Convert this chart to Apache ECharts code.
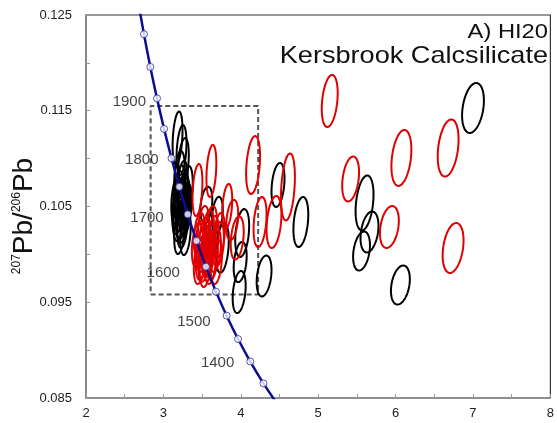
<!DOCTYPE html>
<html>
<head>
<meta charset="utf-8">
<script src="https://cdn.jsdelivr.net/npm/echarts@6/dist/echarts.min.js"></script>
<style>
html,body{margin:0;padding:0;background:#fff;}
#chart{width:557px;height:423px;}
</style>
</head>
<body>
<div id="chart"></div>
<script>
// ---------- data ----------
const xTickLabels = ['2', '3', '4', '5', '6', '7', '8'];
const yTickLabels = ['0.085', '0.095', '0.105', '0.115', '0.125'];

// Concordia age markers (Ma) and their 238U/206Pb, 207Pb/206Pb positions
const concordiaAges = [2050, 2000, 1950, 1900, 1850, 1800, 1750, 1700, 1650, 1600, 1550, 1500, 1450, 1400, 1350, 1300];
const concordiaX = [2.6712, 2.7490, 2.8310, 2.9174, 3.0084, 3.1046, 3.2062, 3.3139, 3.4282, 3.5497, 3.6790, 3.8170, 3.9645, 4.1227, 4.2926, 4.4756];
const concordiaY = [0.12651, 0.12299, 0.11958, 0.11629, 0.11311, 0.11004, 0.10706, 0.10418, 0.10141, 0.09872, 0.09611, 0.09360, 0.09116, 0.08881, 0.08653, 0.08432];
const labelledAges = [1900, 1800, 1700, 1600, 1500, 1400];

// Error ellipses: [x, y, x half-error, y half-error]
const blackEllipses = [
  [3.183, 0.11215, 0.064, 0.00277],
  [3.234, 0.11090, 0.064, 0.00260],
  [3.260, 0.10965, 0.068, 0.00250],
  [3.208, 0.10829, 0.068, 0.00250],
  [3.247, 0.10725, 0.068, 0.00250],
  [3.195, 0.10620, 0.068, 0.00250],
  [3.272, 0.10568, 0.068, 0.00250],
  [3.221, 0.10495, 0.068, 0.00250],
  [3.285, 0.10443, 0.068, 0.00240],
  [3.195, 0.10380, 0.068, 0.00240],
  [3.247, 0.10307, 0.068, 0.00240],
  [3.208, 0.10234, 0.068, 0.00230],
  [3.285, 0.10223, 0.068, 0.00230],
  [3.170, 0.10568, 0.068, 0.00250],
  [3.311, 0.10672, 0.068, 0.00250],
  [3.230, 0.10400, 0.068, 0.00240],
  [3.260, 0.10600, 0.068, 0.00250],
  [3.215, 0.10680, 0.066, 0.00250],
  [3.250, 0.10520, 0.066, 0.00250],
  [3.180, 0.10450, 0.066, 0.00240],
  [3.300, 0.10500, 0.066, 0.00240],
  [3.240, 0.10350, 0.066, 0.00230],
  [3.555, 0.10516, 0.077, 0.00190],
  [3.697, 0.10411, 0.070, 0.00190],
  [3.761, 0.10067, 0.084, 0.00260],
  [4.018, 0.10223, 0.090, 0.00250],
  [3.992, 0.09920, 0.084, 0.00210],
  [3.979, 0.09607, 0.084, 0.00220],
  [4.301, 0.09774, 0.096, 0.00214],
  [4.481, 0.10725, 0.084, 0.00230],
  [4.776, 0.10338, 0.096, 0.00261],
  [5.599, 0.10537, 0.116, 0.00287],
  [5.663, 0.10234, 0.116, 0.00214],
  [5.560, 0.10035, 0.109, 0.00204],
  [6.062, 0.09680, 0.122, 0.00204],
  [7.000, 0.11529, 0.141, 0.00261]
];
const redEllipses = [
  [5.149, 0.11602, 0.103, 0.00272],
  [6.075, 0.11007, 0.129, 0.00292],
  [6.679, 0.11111, 0.135, 0.00298],
  [5.419, 0.10787, 0.109, 0.00235],
  [5.920, 0.10286, 0.122, 0.00219],
  [6.743, 0.10067, 0.135, 0.00261],
  [4.609, 0.10704, 0.090, 0.00350],
  [4.159, 0.10933, 0.090, 0.00303],
  [4.249, 0.10338, 0.084, 0.00261],
  [4.429, 0.10338, 0.096, 0.00272],
  [3.620, 0.10871, 0.064, 0.00272],
  [3.440, 0.10672, 0.064, 0.00272],
  [3.825, 0.10505, 0.064, 0.00230],
  [3.889, 0.10359, 0.077, 0.00210],
  [3.954, 0.10171, 0.084, 0.00225],
  [3.465, 0.10202, 0.072, 0.00230],
  [3.530, 0.10150, 0.072, 0.00230],
  [3.594, 0.10098, 0.072, 0.00230],
  [3.504, 0.10046, 0.072, 0.00230],
  [3.568, 0.09993, 0.072, 0.00230],
  [3.632, 0.09962, 0.072, 0.00230],
  [3.465, 0.09920, 0.072, 0.00230],
  [3.542, 0.09889, 0.072, 0.00230],
  [3.607, 0.09920, 0.072, 0.00230],
  [3.671, 0.10046, 0.072, 0.00230],
  [3.440, 0.10098, 0.072, 0.00230],
  [3.517, 0.10276, 0.072, 0.00230],
  [3.581, 0.10234, 0.072, 0.00230],
  [3.645, 0.10171, 0.072, 0.00230],
  [3.710, 0.10108, 0.072, 0.00230],
  [3.491, 0.09962, 0.072, 0.00230],
  [3.555, 0.10067, 0.072, 0.00230],
  [3.620, 0.10276, 0.072, 0.00230],
  [3.684, 0.09920, 0.072, 0.00230],
  [3.722, 0.10202, 0.072, 0.00230],
  [3.480, 0.10130, 0.070, 0.00225],
  [3.590, 0.10010, 0.070, 0.00225],
  [3.520, 0.09940, 0.070, 0.00225]
];
const errorCorrelation = 0.3;

// Dashed selection box corners
const boxX = [2.835, 4.224];
const boxY = [0.0958, 0.1155];

// ---------- chart ----------
const FONT = "'Liberation Sans', Arial, sans-serif";
const chart = echarts.init(document.getElementById('chart'), null, {renderer: 'canvas'});

function ellipseRenderer(color) {
  return function (params, api) {
    const cx = api.value(0), cy = api.value(1), sx = api.value(2), sy = api.value(3);
    const r = errorCorrelation, q = Math.sqrt(1 - r * r);
    const pts = [];
    const N = 72;
    for (let i = 0; i < N; i++) {
      const t = i / N * Math.PI * 2;
      pts.push(api.coord([cx + sx * Math.cos(t), cy + sy * (r * Math.cos(t) + q * Math.sin(t))]));
    }
    return {type: 'polygon', shape: {points: pts}, style: {fill: 'none', stroke: color, lineWidth: 2}};
  };
}

const labelPlacement = {
  1900: {distance: 7, offset: [0, 3]},
  1800: {distance: 9, offset: [0, 2]},
  1700: {distance: 20, offset: [0, 4]},
  1600: {distance: 22, offset: [0, 6]},
  1500: {distance: 12, offset: [0, 6]},
  1400: {distance: 12, offset: [0, 1]}
};

const concordiaLine = concordiaX.map((x, i) => [x, concordiaY[i]]);
const markerData = concordiaAges.map((age, i) => {
  const item = {value: [concordiaX[i], concordiaY[i]], age: age};
  if (labelledAges.indexOf(age) >= 0) {
    const p = labelPlacement[age];
    item.label = {show: true, position: 'left', distance: p.distance, offset: p.offset};
  }
  return item;
});

const boxData = [
  [boxX[0], boxY[0]], [boxX[1], boxY[0]], [boxX[1], boxY[1]], [boxX[0], boxY[1]], [boxX[0], boxY[0]]
];

const option = {
  animation: false,
  backgroundColor: '#fff',
  grid: {left: 86, right: 4, top: 15, bottom: 25, show: true, borderColor: '#333', borderWidth: 1.2},
  xAxis: {
    type: 'value', min: 2, max: 8, interval: 0.5,
    axisLine: {show: true, lineStyle: {color: '#8a8a8a', width: 1.5}},
    axisTick: {show: true, inside: true, length: 4, lineStyle: {color: '#999'}},
    splitLine: {show: false},
    axisLabel: {
      margin: 9, color: '#222', fontFamily: FONT, fontSize: 13,
      formatter: v => { const s = String(Math.round(v * 100) / 100); return xTickLabels.indexOf(s) >= 0 ? s : ''; }
    }
  },
  yAxis: {
    type: 'value', min: 0.085, max: 0.125, interval: 0.005,
    axisLine: {show: true, lineStyle: {color: '#8a8a8a', width: 1.5}},
    axisTick: {show: true, inside: true, length: 4, lineStyle: {color: '#999'}},
    splitLine: {show: false},
    axisLabel: {
      margin: 14, color: '#222', fontFamily: FONT, fontSize: 13,
      formatter: v => { const s = v.toFixed(3); return yTickLabels.indexOf(s) >= 0 ? s : ''; }
    }
  },
  graphic: [
    {type: 'text', x: 548, y: 32.5, scaleX: 1.13, z: 100,
      style: {text: 'A) HI20', x: 0, y: 0, align: 'right', verticalAlign: 'middle', font: '21px ' + FONT, fill: '#111'}},
    {type: 'text', x: 548, y: 56, scaleX: 1.13, z: 100,
      style: {text: 'Kersbrook Calcsilicate', x: 0, y: 0, align: 'right', verticalAlign: 'middle', font: '24px ' + FONT, fill: '#111'}},
    {type: 'text', x: 24, y: 216, rotation: Math.PI / 2, z: 100,
      style: {
        text: '{s|207}{m|Pb/}{s|206}{m|Pb}', x: 0, y: 0, align: 'center', verticalAlign: 'middle',
        rich: {
          s: {fontSize: 12, fontFamily: FONT, fill: '#111', lineHeight: 14, verticalAlign: 'top', padding: [2, 0, 0, 0]},
          m: {fontSize: 28, fontFamily: FONT, fill: '#111', lineHeight: 30}
        }
      }}
  ],
  series: [
    {
      type: 'line', data: boxData, showSymbol: false, symbol: 'none', z: 1,
      lineStyle: {color: '#555', width: 2, type: [5, 3]}, silent: true
    },
    {
      type: 'custom', data: blackEllipses, renderItem: ellipseRenderer('#000'), clip: true, z: 2,
      encode: {x: 0, y: 1}, silent: true
    },
    {
      type: 'custom', data: redEllipses, renderItem: ellipseRenderer('#e00000'), clip: true, z: 3,
      encode: {x: 0, y: 1}, silent: true
    },
    {
      type: 'line', data: concordiaLine, smooth: 0.3, showSymbol: false, symbol: 'none', z: 4, clip: true,
      lineStyle: {color: '#0d0d8f', width: 2.5}, silent: true
    },
    {
      type: 'scatter', data: markerData, symbol: 'circle', symbolSize: 7, z: 5, clip: true,
      itemStyle: {color: '#fff', borderColor: '#2a2aa8', borderWidth: 1},
      label: {show: false, color: '#111', fontFamily: FONT, fontSize: 15, formatter: p => String(p.data.age)},
      silent: true
    }
  ]
};
chart.setOption(option);
</script>
</body>
</html>
